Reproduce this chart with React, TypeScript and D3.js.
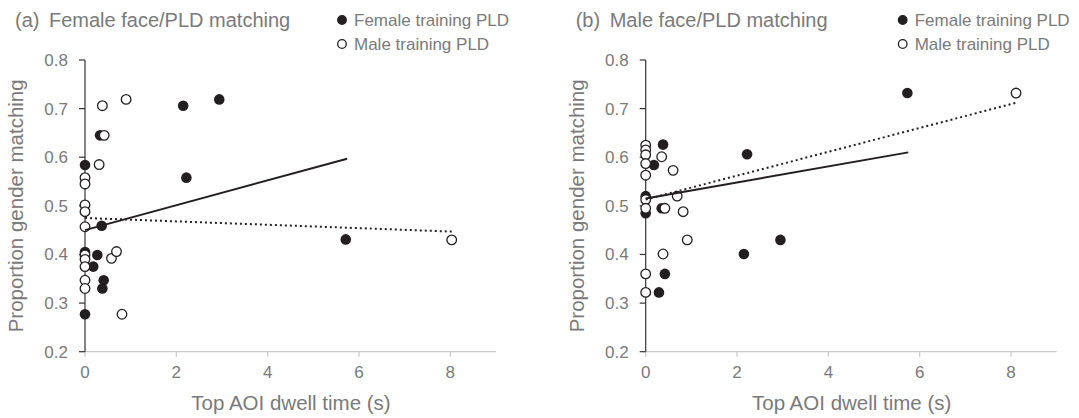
import * as d3 from 'd3';

// panel (a) female face / PLD matching
const femaleA = [
  [0, 0.584], [0.365, 0.459], [0, 0.405], [0.27, 0.399], [0.18, 0.375],
  [0.41, 0.347], [0.38, 0.33], [0, 0.277], [2.15, 0.706], [2.94, 0.719],
  [2.22, 0.558], [5.71, 0.431], [0.33, 0.645],
];
const maleA = [
  [0.38, 0.706], [0.9, 0.719], [0.42, 0.645], [0.31, 0.585], [0, 0.558],
  [0, 0.545], [0, 0.502], [0, 0.488], [0, 0.457], [0, 0.399], [0, 0.39],
  [0, 0.375], [0, 0.347], [0, 0.33], [0.58, 0.392], [0.69, 0.406],
  [0.81, 0.277], [8.03, 0.43],
];
const trendFemaleA = [[0, 0.45], [5.74, 0.597]];
const trendMaleA = [[0, 0.475], [8.05, 0.447]];

// panel (b) male face / PLD matching
const femaleB = [
  [0.38, 0.626], [0.18, 0.584], [0, 0.52], [0, 0.485], [0.35, 0.495],
  [2.22, 0.606], [2.95, 0.43], [2.15, 0.401], [0.42, 0.36], [0.29, 0.322],
  [5.73, 0.732],
];
const maleB = [
  [0, 0.625], [0, 0.615], [0, 0.605], [0, 0.587], [0, 0.563], [0, 0.513],
  [0, 0.495], [0, 0.36], [0, 0.322], [0.35, 0.601], [0.6, 0.573],
  [0.69, 0.52], [0.42, 0.495], [0.82, 0.488], [0.91, 0.43], [0.38, 0.401],
  [8.11, 0.732],
];
const trendFemaleB = [[0, 0.515], [5.75, 0.61]];
const trendMaleB = [[0, 0.513], [8.11, 0.712]];

const xTicks = [0, 2, 4, 6, 8];
const yTicks = [0.2, 0.3, 0.4, 0.5, 0.6, 0.7, 0.8];
const legendLabels = ['Female training PLD', 'Male training PLD'];

const font = '"Liberation Sans", Arial, sans-serif';
const grey = '#7a7a7a';
const ink = '#231f20';

const Panel = ({ left, tag, title, female, male, trendF, trendM }) => {
  const x = d3.scaleLinear().domain([0, 9]).range([left, left + 411]);
  const y = d3.scaleLinear().domain([0.2, 0.8]).range([351.7, 60]);
  const line = d3
    .line()
    .x((d) => x(d[0]))
    .y((d) => y(d[1]));

  return (
    <g fontFamily={font}>
      <text x={left - 70} y={27} fontSize={20} fill={grey}>
        {tag}
      </text>
      <text x={left - 36} y={27} fontSize={20} fill={grey}>
        {title}
      </text>
      {legendLabels.map((l, i) => (
        <g key={l}>
          <circle
            cx={left + 257}
            cy={20 + i * 24}
            r={4.3}
            fill={i === 0 ? ink : '#fff'}
            stroke={ink}
            strokeWidth={1.3}
          />
          <text x={left + 269} y={26 + i * 24} fontSize={17} fill={grey}>
            {l}
          </text>
        </g>
      ))}

      {/* x axis */}
      <line x1={x(0)} x2={x(9)} y1={y(0.2)} y2={y(0.2)} stroke="#c8c8c8" strokeWidth={1.2} />
      {xTicks.map((t) => (
        <g key={t}>
          <line x1={x(t)} x2={x(t)} y1={y(0.2)} y2={y(0.2) + 5} stroke="#c8c8c8" strokeWidth={1.2} />
          <text x={x(t)} y={y(0.2) + 26} fontSize={17} fill={grey} textAnchor="middle">
            {t}
          </text>
        </g>
      ))}
      <text x={x(0) + 206} y={410} fontSize={20.5} fill={grey} textAnchor="middle">
        Top AOI dwell time (s)
      </text>

      {/* y axis */}
      <line x1={x(0)} x2={x(0)} y1={y(0.8)} y2={y(0.2)} stroke="#333" strokeWidth={1.2} />
      {yTicks.map((t) => (
        <g key={t}>
          <line x1={x(0) - 6} x2={x(0)} y1={y(t)} y2={y(t)} stroke="#333" strokeWidth={1.2} />
          <text x={x(0) - 17} y={y(t) + 6} fontSize={17} fill={grey} textAnchor="end">
            {t.toFixed(1)}
          </text>
        </g>
      ))}
      <text
        transform={`translate(${left - 62},${y(0.5)}) rotate(-90)`}
        fontSize={20.5}
        fill={grey}
        textAnchor="middle"
      >
        Proportion gender matching
      </text>

      {female.map((d, i) => (
        <circle key={'f' + i} cx={x(d[0])} cy={y(d[1])} r={5.3} fill={ink} />
      ))}
      {male.map((d, i) => (
        <circle
          key={'m' + i}
          cx={x(d[0])}
          cy={y(d[1])}
          r={4.8}
          fill="#fff"
          stroke={ink}
          strokeWidth={1.3}
        />
      ))}
      <path d={line(trendF)} fill="none" stroke={ink} strokeWidth={2} />
      <path d={line(trendM)} fill="none" stroke={ink} strokeWidth={2} strokeDasharray="2 3" />
    </g>
  );
};

export default function App() {
  return (
    <svg
      width={1079}
      height={418}
      style={{ position: 'absolute', left: 0, top: 0, background: '#fff' }}
    >
      <Panel
        left={85}
        tag="(a)"
        title="Female face/PLD matching"
        female={femaleA}
        male={maleA}
        trendF={trendFemaleA}
        trendM={trendMaleA}
      />
      <Panel
        left={645.7}
        tag="(b)"
        title="Male face/PLD matching"
        female={femaleB}
        male={maleB}
        trendF={trendFemaleB}
        trendM={trendMaleB}
      />
    </svg>
  );
}
